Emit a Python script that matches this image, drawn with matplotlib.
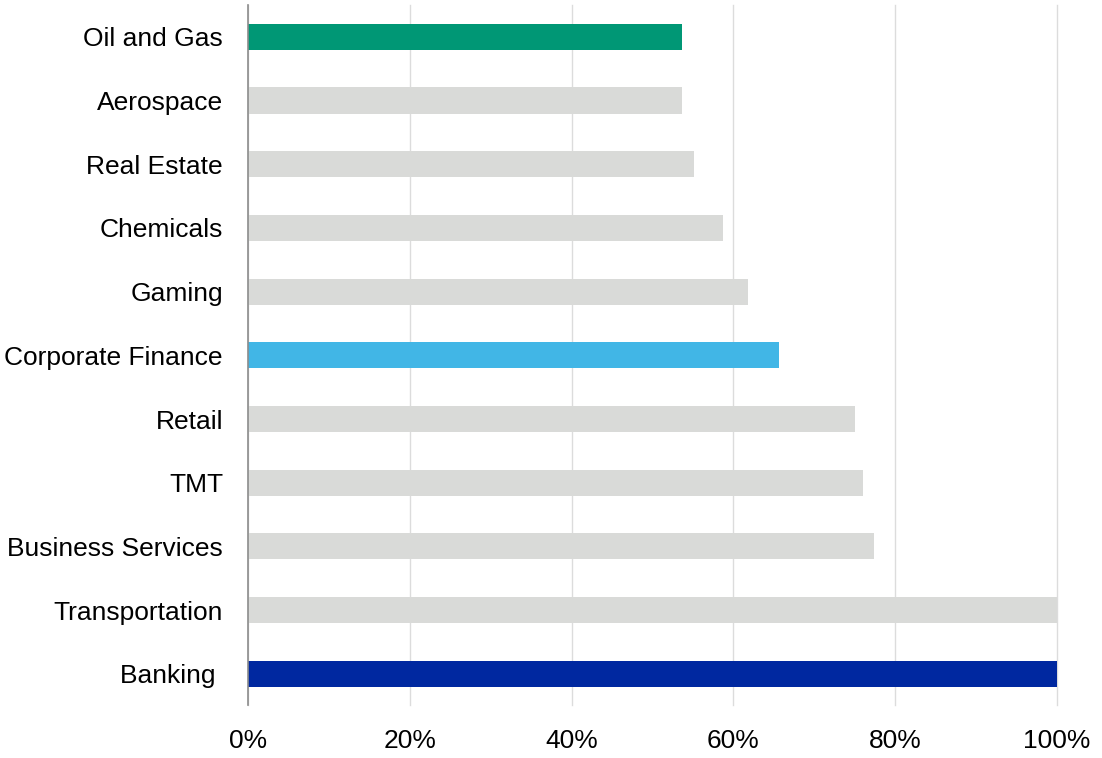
import matplotlib
matplotlib.use("Agg")
import matplotlib.pyplot as plt

# Data (bottom to top)
sectors = ['Banking ', 'Transportation', 'Business Services', 'TMT', 'Retail',
           'Corporate Finance', 'Gaming', 'Chemicals', 'Real Estate',
           'Aerospace', 'Oil and Gas']
values = [100.0, 100.0, 77.4, 76.0, 75.0, 65.6, 61.8, 58.7, 55.1, 53.6, 53.7]
colors = ['#0028A0', '#D9DAD8', '#D9DAD8', '#D9DAD8', '#D9DAD8',
          '#41B6E6', '#D9DAD8', '#D9DAD8', '#D9DAD8', '#D9DAD8', '#009775']
ticks = [0, 20, 40, 60, 80, 100]

plt.rcParams['font.family'] = ['Liberation Sans', 'DejaVu Sans']

fig = plt.figure(figsize=(11.02, 7.58), dpi=100)
ax = fig.add_axes([248 / 1102, 1 - 705 / 758, (1057 - 248) / 1102, 700 / 758])

ax.barh(range(len(sectors)), values, height=0.41, color=colors, zorder=3)

ax.set_xlim(0, 100)
ax.set_ylim(-0.49, 10.5)
ax.set_xticks(ticks)
ax.set_xticklabels([f'{t}%' for t in ticks])
ax.set_yticks(range(len(sectors)))
ax.set_yticklabels(sectors)

ax.tick_params(axis='both', length=0, labelsize=19, colors='black')
ax.tick_params(axis='y', pad=18)
ax.tick_params(axis='x', pad=17)

ax.grid(axis='x', color='#DCDCDC', linewidth=1, zorder=0)
for line in ax.get_xgridlines():
    line.set_clip_on(False)
for s in ['top', 'right', 'bottom']:
    ax.spines[s].set_visible(False)
ax.spines['left'].set_color('#8C8C8C')
ax.spines['left'].set_linewidth(1.2)
ax.spines['left'].set_zorder(4)

fig.savefig('out.png', dpi=100)
